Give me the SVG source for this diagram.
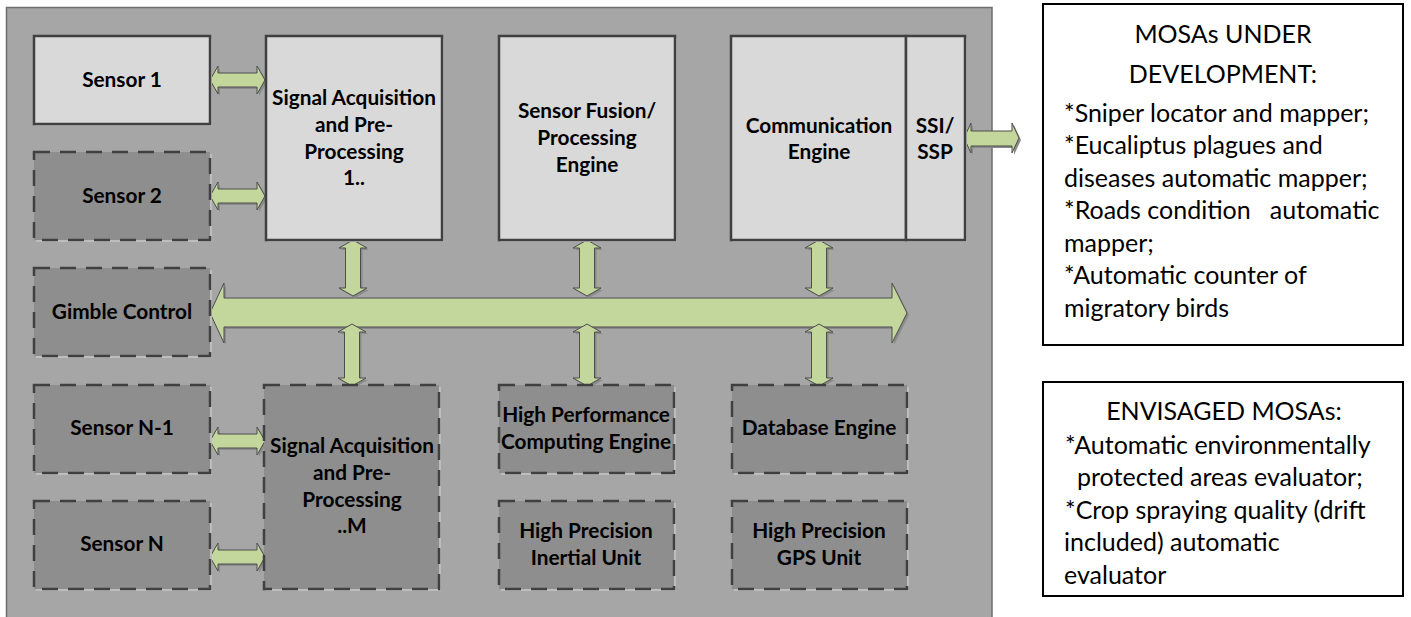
<svg xmlns="http://www.w3.org/2000/svg" xmlns:xlink="http://www.w3.org/1999/xlink" width="1411" height="617" viewBox="0 0 1411 617">
<style>
.panel{fill:#a6a6a6;stroke:#6e6e6e;stroke-width:1.5}
.light{fill:#d9d9d9;stroke:#404040;stroke-width:2.5}
.dark{fill:#8e8e8e;stroke:#404040;stroke-width:2.5;stroke-dasharray:16 10}
.shadow{fill:#bdbdbd}
.arrow{fill:#c3d69b;stroke:#4d4d4d;stroke-width:1}
.ashadow{fill:#8a8a8a}
.lbl{font-family:Lato,"Open Sans",sans-serif;font-weight:bold;font-size:20.8px;fill:#000000;text-anchor:middle}
.note{fill:#ffffff;stroke:#000000;stroke-width:2}
.nt{font-family:Lato,"Open Sans",sans-serif;font-size:25px;fill:#000000}
.ntc{font-family:Lato,"Open Sans",sans-serif;font-size:25px;fill:#000000;text-anchor:middle}
</style>
<defs>
<polygon id="hArrow" points="0,0 8,-14 8,-7 47,-7 47,-14 55,0 47,14 47,7 8,7 8,14"/>
<polygon id="vArrow" points="0,0 14,8 7.5,8 7.5,48 14,48 0,56 -14,48 -7.5,48 -7.5,8 -14,8"/>
<polygon id="vArrow2" points="0,0 14,8 7.5,8 7.5,54 14,54 0,62 -14,54 -7.5,54 -7.5,8 -14,8"/>
</defs>
<rect class="panel" x="6.5" y="7.5" width="985.5" height="620"/>

<g id="connectors">
<use href="#hArrow" class="ashadow" x="212" y="82"/>
<use href="#hArrow" class="arrow" x="210" y="80"/>
<use href="#hArrow" class="ashadow" x="212" y="198"/>
<use href="#hArrow" class="arrow" x="210" y="196"/>
<use href="#hArrow" class="ashadow" x="212" y="443"/>
<use href="#hArrow" class="arrow" x="210" y="441"/>
<use href="#hArrow" class="ashadow" x="212" y="559"/>
<use href="#hArrow" class="arrow" x="210" y="557"/>
<polygon class="ashadow" points="966,140 973,125 973,133 1014,133 1014,125 1021,140 1014,155 1014,148 973,148 973,155"/>
<polygon class="arrow" points="964,138 971,123 971,131 1012,131 1012,123 1019,138 1012,153 1012,146 971,146 971,153"/>
<polygon class="ashadow" points="212,315 226,285 226,300 894,300 894,285 909,315 894,345 894,329 226,329 226,345"/>
<polygon class="arrow" points="210,313 224,283 224,298 892,298 892,283 907,313 892,343 892,327 224,327 224,343"/>
<use href="#vArrow" class="ashadow" x="355" y="242"/>
<use href="#vArrow" class="arrow" x="353" y="240"/>
<use href="#vArrow" class="ashadow" x="589" y="242"/>
<use href="#vArrow" class="arrow" x="587" y="240"/>
<use href="#vArrow" class="ashadow" x="821" y="242"/>
<use href="#vArrow" class="arrow" x="819" y="240"/>
<use href="#vArrow2" class="ashadow" x="354" y="326"/>
<use href="#vArrow2" class="arrow" x="352" y="324"/>
<use href="#vArrow2" class="ashadow" x="589" y="326"/>
<use href="#vArrow2" class="arrow" x="587" y="324"/>
<use href="#vArrow2" class="ashadow" x="821" y="326"/>
<use href="#vArrow2" class="arrow" x="819" y="324"/>
</g>

<g id="sensor1">
<rect class="shadow" x="36" y="38" width="176" height="88"/>
<rect class="light" x="34" y="36" width="176" height="88"/>
<text class="lbl" x="122" y="87">Sensor 1</text>
</g>
<g id="sensor2">
<rect class="shadow" x="36" y="154" width="176" height="88"/>
<rect class="dark" x="34" y="152" width="176" height="88"/>
<text class="lbl" x="122" y="203">Sensor 2</text>
</g>
<g id="gimble">
<rect class="shadow" x="36" y="270" width="176" height="88"/>
<rect class="dark" x="34" y="268" width="176" height="88"/>
<text class="lbl" x="122" y="319">Gimble Control</text>
</g>
<g id="sensorN1">
<rect class="shadow" x="36" y="387" width="176" height="88"/>
<rect class="dark" x="34" y="385" width="176" height="88"/>
<text class="lbl" x="122" y="435">Sensor N-1</text>
</g>
<g id="sensorN">
<rect class="shadow" x="36" y="503" width="176" height="88"/>
<rect class="dark" x="34" y="501" width="176" height="88"/>
<text class="lbl" x="122" y="551">Sensor N</text>
</g>
<g id="sap1">
<rect class="shadow" x="268" y="38" width="176" height="204"/>
<rect class="light" x="266" y="36" width="176" height="204"/>
<text class="lbl" x="354" y="105">Signal Acquisition</text>
<text class="lbl" x="354" y="132">and Pre-</text>
<text class="lbl" x="354" y="159">Processing</text>
<text class="lbl" x="354" y="185">1..</text>
</g>
<g id="sapM">
<rect class="shadow" x="266" y="387" width="175" height="204"/>
<rect class="dark" x="264" y="385" width="175" height="204"/>
<text class="lbl" x="352" y="453">Signal Acquisition</text>
<text class="lbl" x="352" y="480">and Pre-</text>
<text class="lbl" x="352" y="507">Processing</text>
<text class="lbl" x="352" y="533">..M</text>
</g>
<g id="fusion">
<rect class="shadow" x="501" y="38" width="176" height="204"/>
<rect class="light" x="499" y="36" width="176" height="204"/>
<text class="lbl" x="587" y="118">Sensor Fusion/</text>
<text class="lbl" x="587" y="145">Processing</text>
<text class="lbl" x="587" y="172">Engine</text>
</g>
<g id="comm">
<rect class="shadow" x="733" y="38" width="234" height="204"/>
<rect class="light" x="731" y="36" width="175" height="204"/>
<text class="lbl" x="819" y="133">Communication</text>
<text class="lbl" x="819" y="159">Engine</text>
</g>
<g id="ssi">
<rect class="light" x="906" y="36" width="59" height="204"/>
<text class="lbl" x="935" y="133">SSI/</text>
<text class="lbl" x="935" y="159">SSP</text>
</g>
<g id="hpc">
<rect class="shadow" x="501" y="387" width="175" height="88"/>
<rect class="dark" x="499" y="385" width="175" height="88"/>
<text class="lbl" x="586" y="422">High Performance</text>
<text class="lbl" x="586" y="449">Computing Engine</text>
</g>
<g id="db">
<rect class="shadow" x="734" y="387" width="175" height="88"/>
<rect class="dark" x="732" y="385" width="175" height="88"/>
<text class="lbl" x="819" y="435">Database Engine</text>
</g>
<g id="inertial">
<rect class="shadow" x="501" y="503" width="175" height="88"/>
<rect class="dark" x="499" y="501" width="175" height="88"/>
<text class="lbl" x="586" y="538">High Precision</text>
<text class="lbl" x="586" y="565">Inertial Unit</text>
</g>
<g id="gps">
<rect class="shadow" x="734" y="503" width="175" height="88"/>
<rect class="dark" x="732" y="501" width="175" height="88"/>
<text class="lbl" x="819" y="538">High Precision</text>
<text class="lbl" x="819" y="565">GPS Unit</text>
</g>

<g id="mosas-dev">
<rect class="note" x="1043" y="4" width="360" height="341"/>
<text class="ntc" x="1223" y="43">MOSAs UNDER</text>
<text class="ntc" x="1223" y="83">DEVELOPMENT:</text>
<text class="nt" x="1064" y="122">*Sniper locator and mapper;</text>
<text class="nt" x="1064" y="154">*Eucaliptus plagues and</text>
<text class="nt" x="1064" y="187">diseases automatic mapper;</text>
<text class="nt" x="1064" y="219" xml:space="preserve">*Roads condition   automatic</text>
<text class="nt" x="1064" y="252">mapper;</text>
<text class="nt" x="1064" y="284">*Automatic counter of</text>
<text class="nt" x="1064" y="317">migratory birds</text>
</g>
<g id="mosas-env">
<rect class="note" x="1043" y="382" width="360" height="214"/>
<text class="ntc" x="1224" y="420">ENVISAGED MOSAs:</text>
<text class="nt" x="1065" y="454">*Automatic environmentally</text>
<text class="nt" x="1077" y="486">protected areas evaluator;</text>
<text class="nt" x="1065" y="519">*Crop spraying quality (drift</text>
<text class="nt" x="1064" y="551">included) automatic</text>
<text class="nt" x="1064" y="584">evaluator</text>
</g>
</svg>
